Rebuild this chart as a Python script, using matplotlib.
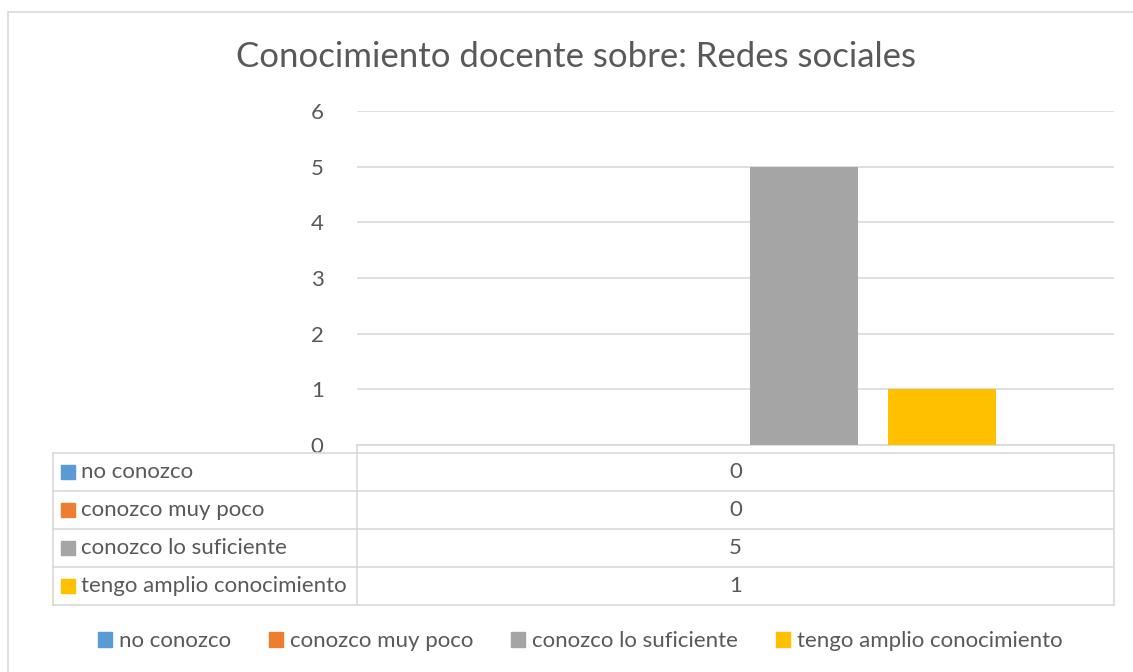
import matplotlib.pyplot as plt
from matplotlib.patches import Rectangle
from matplotlib.lines import Line2D

# datos
series = ["no conozco", "conozco muy poco", "conozco lo suficiente", "tengo amplio conocimiento"]
valores = [0, 0, 5, 1]
colores = ["#5B9BD5", "#ED7D31", "#A5A5A5", "#FFC000"]
titulo = "Conocimiento docente sobre: Redes sociales"
yticks = [0, 1, 2, 3, 4, 5, 6]

plt.rcParams['font.family'] = ['Lato', 'DejaVu Sans']
gris_txt = "#595959"
gris_lin = "#D9D9D9"

W, H = 1133, 672
fig = plt.figure(figsize=(W/100, H/100), dpi=100)

def fx(x):
    return x / W

def fy(y):
    return 1 - y / H

# borde del grafico
fig.add_artist(Rectangle((fx(8), fy(700)), fx(1200), fy(12) - fy(700), transform=fig.transFigure,
                         fill=False, edgecolor=gris_lin, linewidth=1.2))

# area de trazado
x0, x1, ytop, ybot = 357, 1114, 111, 445
ax = fig.add_axes([fx(x0), fy(ybot), fx(x1 - x0), fy(ytop) - fy(ybot)])
ancho = 108 / 757
hueco = 30 / 757
n = len(series)
total = n * ancho + (n - 1) * hueco
for i in range(n):
    pos = -total / 2 + ancho / 2 + i * (ancho + hueco)
    ax.bar(pos, valores[i], width=ancho, color=colores[i], zorder=3)
ax.set_xlim(-0.5, 0.5)
ax.set_ylim(0, 6)
ax.set_yticks(yticks)
ax.set_yticklabels([str(t) for t in yticks], color=gris_txt, fontsize=16)
ax.tick_params(axis='y', length=0, pad=24)
ax.set_xticks([])
ax.grid(axis='y', color=gris_lin, linewidth=1.2, zorder=0)
for s in ['top', 'right', 'left']:
    ax.spines[s].set_visible(False)
ax.spines['bottom'].set_color(gris_lin)
ax.spines['bottom'].set_linewidth(1.2)

fig.suptitle(titulo, x=fx(576), y=fy(57), va='center', fontsize=25, color=gris_txt)

# tabla de datos
tl, tm, tr = 53, 357, 1114
filas = [453, 491, 529, 567, 605]
def linea(xa, xb, ya, yb):
    fig.add_artist(Line2D([fx(xa), fx(xb)], [fy(ya), fy(yb)], transform=fig.transFigure,
                          color=gris_lin, linewidth=1.2))
for y in filas:
    linea(tl, tr, y, y)
linea(tl, tl, filas[0], filas[-1])
linea(tm, tm, ybot, filas[-1])
linea(tr, tr, ybot, filas[-1])
for i in range(n):
    yc = (filas[i] + filas[i + 1]) / 2
    fig.add_artist(Rectangle((fx(61), fy(yc + 7)), fx(14), fy(yc - 7) - fy(yc + 7),
                             transform=fig.transFigure, color=colores[i]))
    fig.text(fx(81), fy(yc), series[i], va='center', ha='left', fontsize=16, color=gris_txt)
    fig.text(fx((tm + tr) / 2), fy(yc), str(valores[i]), va='center', ha='center',
             fontsize=16, color=gris_txt)

# leyenda
handles = [Rectangle((0, 0), 1, 1, color=c) for c in colores]
fig.legend(handles, series, loc='center', bbox_to_anchor=(fx(580), fy(641)), ncol=4, frameon=False,
           fontsize=16, labelcolor=gris_txt, handlelength=0.65, handleheight=0.65,
           handletextpad=0.3, columnspacing=1.7)

fig.savefig("out.png", dpi=100)
